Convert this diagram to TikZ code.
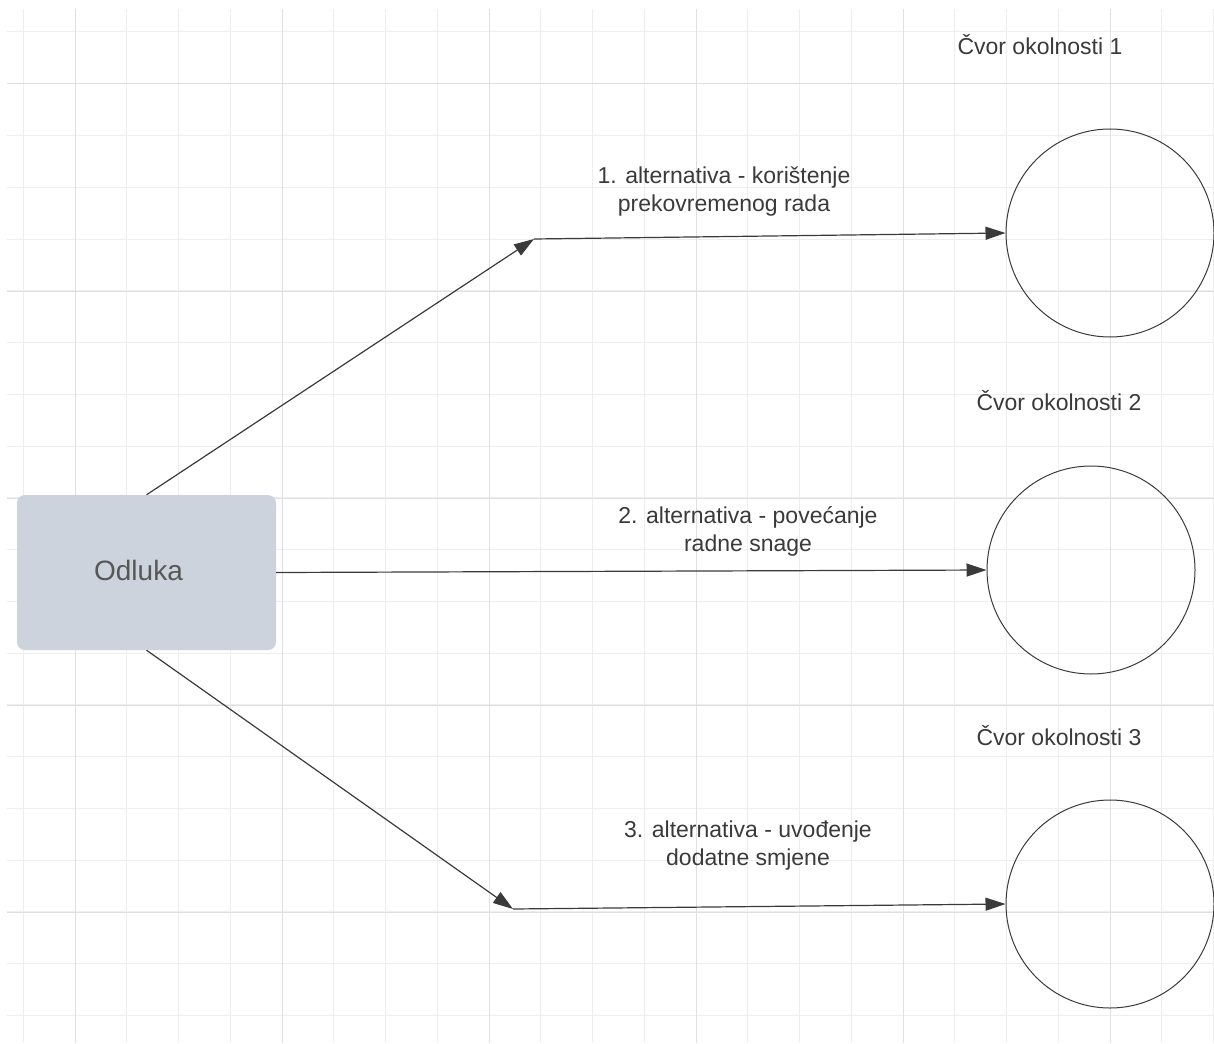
\documentclass[tikz,border=0pt]{standalone}
\usepackage{fontspec}
\setmainfont{Liberation Sans}
\usepackage{tikz}
\usetikzlibrary{arrows.meta, positioning}
\definecolor{gridlight}{HTML}{EEEEEE}
\definecolor{griddark}{HTML}{E0E0E0}
\definecolor{boxfill}{HTML}{CDD3DC}
\definecolor{inkgray}{HTML}{3A3A3A}

\tikzset{
	odluka/.style={rectangle, rounded corners=8pt, fill=boxfill, minimum width=259pt, minimum height=155pt, inner sep=0pt, text=inkgray!85, font=\fontsize{28}{32}\selectfont},
	okolnost/.style={circle, draw=inkgray, line width=1pt, minimum size=208pt, inner sep=0pt},
	oznaka/.style={align=center, text=inkgray, font=\fontsize{23}{28}\selectfont, inner sep=0pt},
	alt/.style={draw=inkgray, line width=1.2pt, -{Triangle[length=20pt, width=13pt]}},
}

\begin{document}
\begin{tikzpicture}[x=1pt, y=-1pt]
		\useasboundingbox (0,0) rectangle (1214,1043);
		% mreza
		\foreach \i in {0,...,23} \draw[gridlight, line width=1pt] ({23.3+51.75*\i},9) -- ({23.3+51.75*\i},1043);
		\foreach \j in {0,...,19} \draw[gridlight, line width=1pt] (7,{32+51.75*\j}) -- (1214,{32+51.75*\j});
		\foreach \i in {0,...,5} \draw[griddark, line width=1pt] ({75+207*\i},9) -- ({75+207*\i},1043);
		\foreach \j in {0,...,4} \draw[griddark, line width=1pt] (7,{84+207*\j}) -- (1214,{84+207*\j});

		\draw (146.5,572.5) node[odluka] (odluka) {\raisebox{5pt}{Odluka}\hspace*{16pt}}
		(1110,233) node[okolnost] (c1) {}
		(1091,570) node[okolnost] (c2) {}
		(1110,904) node[okolnost] (c3) {}
		(1040,45) node[oznaka] (n1) {Čvor okolnosti 1}
		(1059,401) node[oznaka] (n2) {Čvor okolnosti 2}
		(1059,736) node[oznaka] (n3) {Čvor okolnosti 3}
		(724,192) node[oznaka] (a1) {1. alternativa - korištenje\\prekovremenog rada}
		(748,531) node[oznaka] (a2) {2. alternativa - povećanje\\radne snage}
		(748,846) node[oznaka] (a3) {3. alternativa - uvođenje\\dodatne smjene};

		\coordinate (j1) at (534,239);
		\coordinate (j3) at (513,909);

		\draw[alt] (odluka.north) -- (j1);
		\draw[alt] (j1) -- (c1.west);
		\draw[alt] (odluka.east) -- (c2.west);
		\draw[alt] (odluka.south) -- (j3);
		\draw[alt] (j3) -- (c3.west);
	\end{tikzpicture}
\end{document}
